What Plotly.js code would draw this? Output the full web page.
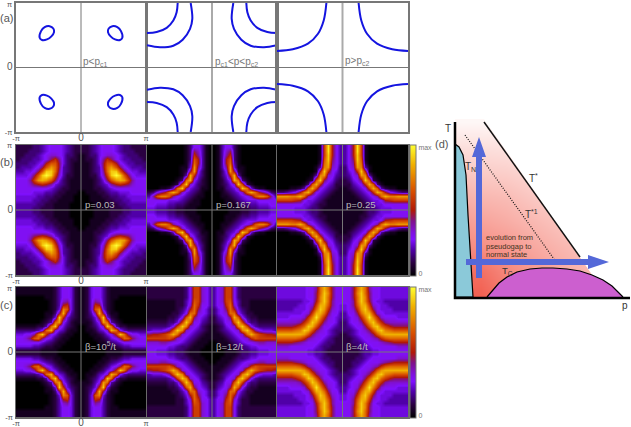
<!DOCTYPE html>
<html><head><meta charset="utf-8">
<script src="https://cdn.plot.ly/plotly-3.0.1.min.js"></script>
<style>html,body{margin:0;padding:0;background:#fff}#c{width:631px;height:427px}</style></head>
<body><div id="c"></div>
<script>
// (a) Fermi surface, upper-left quadrant, in units of pi
const a1Pocket = [[-.636,.462],[-.615,.564],[-.559,.626],[-.482,.641],[-.426,.605],[-.415,.549],[-.456,.482],[-.523,.436],[-.6,.426],[-.636,.462]];
const a2Inner = [[-1,.533],[-.851,.549],[-.697,.615],[-.595,.728],[-.544,.856],[-.528,1]];
const a2Outer = [[-1,.344],[-.8,.313],[-.595,.338],[-.451,.431],[-.338,.6],[-.303,.754],[-.328,1]];
const a3Curve = [[-1,.256],[-.759,.282],[-.528,.369],[-.374,.523],[-.287,.728],[-.246,1]];
// (b),(c) spectral weight, upper-left quadrant, 0 to 20 (20 = max)
const b1 = [
[2,2,2,2,3,3,4,5,6,6,6,5,4,3,2,2],[2,2,2,3,3,3,4,5,6,6,6,5,4,3,2,2],[2,2,3,3,3,4,5,6,7,7,6,5,3,3,2,1],[2,3,3,3,4,4,5,6,9,11,8,5,3,2,2,1],
[3,3,3,4,4,5,6,10,13,13,9,5,3,2,1,1],[3,4,4,4,5,6,9,13,16,14,9,4,3,2,1,1],[4,4,5,5,6,9,13,18,18,14,8,4,3,2,1,1],[5,5,5,6,9,13,18,20,18,12,7,4,2,2,1,1],
[6,6,6,8,12,16,17,16,13,9,5,3,2,1,1,1],[6,6,6,7,9,10,11,10,8,5,4,3,2,1,1,1],[6,6,6,6,6,6,6,6,5,4,3,2,2,1,1,1],[6,6,6,6,5,5,5,4,4,3,2,2,1,1,1,0],
[5,5,5,5,5,4,4,3,3,2,2,1,1,1,0,0],[5,5,5,5,4,4,3,3,2,2,1,1,1,1,0,0],[4,4,4,4,4,3,3,2,2,1,1,1,1,0,0,0],[4,4,4,4,3,3,2,2,2,1,1,1,1,0,0,0]];
const b2 = [
[0,0,0,0,0,0,0,0,0,1,3,6,6,4,1,0],[0,0,0,0,0,0,0,0,0,1,3,9,7,4,1,0],[0,0,0,0,0,0,0,0,0,1,3,11,8,4,1,0],[0,0,0,0,0,0,0,0,0,1,3,13,10,4,1,0],
[0,0,0,0,0,0,0,0,0,1,4,14,10,4,1,0],[0,0,0,0,0,0,0,0,1,1,5,16,8,4,1,0],[0,0,0,0,0,0,0,0,1,2,9,16,6,3,1,0],[0,0,0,0,0,0,0,0,1,4,17,11,5,3,1,0],
[0,0,0,0,0,0,0,1,3,14,17,6,4,2,1,0],[0,0,0,0,0,0,1,2,12,18,7,5,3,2,1,0],[0,0,0,1,1,2,5,14,18,8,5,4,3,1,1,0],[2,3,6,8,10,14,17,14,7,5,4,3,2,1,0,0],
[4,8,13,15,15,13,8,6,5,4,3,2,1,1,0,0],[6,6,6,6,6,5,5,5,4,3,2,1,1,0,0,0],[6,6,5,5,5,4,4,3,3,2,1,1,1,0,0,0],[5,5,4,4,4,3,3,2,2,1,1,1,0,0,0,0]];
const b3 = [
[0,0,0,0,0,0,0,0,0,0,1,12,19,10,6,4],[0,0,0,0,0,0,0,0,0,0,1,12,19,10,6,4],[0,0,0,0,0,0,0,0,0,0,1,12,18,10,6,4],[0,0,0,0,0,0,0,0,0,0,1,13,18,9,6,4],
[0,0,0,0,0,0,0,0,0,0,2,14,17,8,6,4],[0,0,0,0,0,0,0,0,0,1,4,15,16,7,6,3],[0,0,0,0,0,0,0,0,0,1,10,18,11,6,5,3],[0,0,0,0,0,0,0,0,1,4,15,16,7,6,4,3],
[0,0,0,0,0,0,0,1,2,13,18,9,6,5,3,2],[0,0,0,0,0,0,1,3,13,17,11,6,5,4,2,2],[0,0,0,1,1,2,4,13,17,12,6,5,4,3,2,1],[3,3,4,5,6,10,15,17,11,6,5,4,3,2,1,1],
[16,16,16,15,15,17,14,8,6,5,4,3,2,1,1,1],[12,12,12,12,11,10,6,5,5,4,3,2,1,1,1,1],[6,6,6,6,6,6,5,5,4,3,2,2,1,1,1,1],[6,6,6,6,5,5,5,4,3,3,2,1,1,1,1,1]];
const c1 = [
[1,1,1,1,1,1,1,1,1,2,4,6,6,5,2,1],[1,1,1,1,1,1,1,1,1,2,4,6,6,5,2,1],[0,0,0,0,0,0,0,1,1,2,4,6,6,5,2,1],[0,0,0,0,0,0,0,0,1,2,4,7,8,5,2,1],
[0,0,0,0,0,0,0,0,1,2,4,10,11,5,2,1],[0,0,0,0,0,0,0,0,1,2,5,15,13,5,2,1],[0,0,0,0,0,0,0,1,1,3,9,17,8,4,2,1],[0,0,0,0,0,0,0,1,2,5,18,11,5,3,2,1],
[0,0,0,0,0,0,1,2,4,14,16,6,4,2,1,1],[1,1,1,1,1,2,2,4,14,18,7,5,3,2,1,0],[3,3,3,3,3,4,6,14,17,7,5,4,2,1,1,0],[5,5,6,6,8,14,18,11,6,5,3,2,1,1,0,0],
[6,6,7,9,13,14,9,6,5,3,2,1,1,0,0,0],[6,6,6,6,6,6,5,4,3,2,1,1,0,0,0,0],[5,5,5,5,4,4,3,2,2,1,1,0,0,0,0,0],[2,2,2,2,2,2,1,1,1,1,0,0,0,0,0,0]];
const c2 = [
[2,2,2,2,2,2,2,2,2,3,6,12,12,7,6,4],[2,2,2,2,2,2,2,2,2,3,6,12,12,7,6,4],[2,2,2,2,2,2,2,2,2,3,6,12,12,7,6,4],[1,1,1,1,1,1,1,2,2,4,6,13,12,7,6,4],
[1,1,1,1,1,1,1,2,2,4,7,14,11,6,6,4],[1,1,1,1,1,1,1,2,3,5,10,14,9,6,5,3],[1,1,1,1,1,1,2,2,4,6,14,14,7,6,5,3],[1,1,1,1,1,2,2,3,6,13,17,9,6,5,4,2],
[2,2,2,2,2,3,3,5,12,18,13,6,6,4,3,2],[3,3,3,3,3,4,6,12,18,15,7,6,5,3,2,1],[4,5,5,5,6,8,13,18,15,7,6,5,4,3,2,1],[9,10,10,11,12,14,17,14,7,6,5,4,3,2,1,1],
[12,12,12,12,12,13,11,7,6,5,4,3,2,1,1,1],[7,7,7,8,8,7,6,6,5,4,3,2,1,1,1,0],[6,6,6,6,6,5,5,4,3,3,2,1,1,1,0,0],[6,6,5,5,5,4,4,3,3,2,1,1,1,0,0,0]];
const c3 = [
[5,5,5,5,5,5,5,6,6,8,14,17,14,9,6,6],[5,5,5,5,5,5,5,6,6,9,14,18,15,9,6,6],[5,5,5,5,5,5,5,6,6,9,15,18,14,9,6,6],[4,4,4,4,4,4,5,5,6,10,15,18,14,8,6,6],
[4,4,4,4,4,5,5,6,7,12,17,17,13,8,6,5],[4,4,4,4,5,5,5,6,9,14,18,16,11,7,6,5],[5,5,5,5,5,5,6,7,12,17,17,14,9,6,6,4],[5,5,5,6,6,6,7,11,15,19,15,11,7,6,5,4],
[7,7,7,7,7,8,11,14,18,16,12,8,6,6,5,3],[9,9,9,9,10,12,14,18,17,13,9,6,6,5,4,3],[13,13,13,13,14,15,18,17,13,9,7,6,5,4,3,3],[17,17,17,17,17,17,16,13,9,7,6,6,5,4,3,2],
[14,14,14,14,14,13,11,8,7,6,6,5,4,3,2,2],[10,10,10,10,9,8,7,6,6,6,5,4,3,3,2,2],[7,7,7,6,6,6,6,6,6,5,4,3,3,2,2,2],[6,6,6,6,6,6,6,5,5,4,4,3,2,2,2,2]];
// (d) phase diagram (p, T)
const gradP = [0,25,50,75,100,125,150,175];
const gradT = [0,25,50,75,100,125,150,175];
const gradZ = [
[1,1,.85,.7,.6,.5,.45,.4],[.9,.9,.75,.65,.55,.47,.4,.35],[.75,.7,.65,.55,.47,.4,.33,.2],[.62,.58,.52,.45,.38,.3,.2,.1],
[.5,.45,.42,.35,.28,.2,.1,.1],[.35,.32,.3,.25,.15,.1,.1,.1],[.2,.2,.18,.12,.05,.05,0,0],[.05,.05,.05,0,0,0,0,0]];
const tStar = [[29,175],[125,40]];
const tStar1 = [[10,162],[99,38]];
const maskRight = [[29,178],[125,40],[140,18],[168,0],[177,-1],[177,183],[29,183]];
const tN = [[0,153],[4,150],[8,142],[11,122],[13,82],[16,37],[18,0],[0,0]];
const tC = [[32,0],[37,6],[44,14],[52,20],[62,25],[75,28],[87,29],[98,29],[112,28],[125,26],[137,22],[148,17],[157,11],[163,5],[168,0]];
const arrowV = [[21,19],[27,19],[27,140],[31,140],[24,160],[17,140],[21,140]];
const arrowH = [[11,32],[133,32],[133,28],[154,35],[133,42],[133,38],[11,38]];

const hot = [[0,'#000000'],[.1,'#2a0040'],[.2,'#5000a8'],[.28,'#8010ff'],[.33,'#8010e0'],[.42,'#80108a'],[.5,'#b01808'],[.65,'#d85000'],[.85,'#f0b000'],[1,'#ffff30']];
const font = 'Liberation Sans, Arial, sans-serif';
const W=631,H=427;
const colsX=[[16,146],[147,277],[277,408]];
const rowsY=[[3,132],[145,275],[287,417]];
const N=16;
const centers=[];for(let i=0;i<2*N;i++)centers.push((-1+(i+.5)/N)*Math.PI);
const full=q=>{const r=q.map(o=>o.concat(o.slice().reverse()));return r.concat(r.slice().reverse());};
const data=[],shapes=[],ann=[];
const layout={width:W,height:H,margin:{l:0,r:0,t:0,b:0,pad:0},paper_bgcolor:'#fff',plot_bgcolor:'#fff',showlegend:false,font:{family:font,color:'#666'}};
let n=0;
function panel(col,row){
  n++;
  const suf=n===1?'':String(n);
  const [x0,x1]=colsX[col],[y0,y1]=rowsY[row];
  const first=col===0;
  const bc=row===0?'#777':'#6a6a6a';
  const common={range:[-Math.PI,Math.PI],showgrid:false,zeroline:false,showline:true,mirror:true,linecolor:bc,linewidth:row===0?2:1.5,ticks:'',showticklabels:first,tickfont:{size:7.5,color:'#555',family:font},layer:'above traces',automargin:false,tickmode:'array'};
  layout['xaxis'+suf]=Object.assign({},common,{domain:[x0/W,x1/W],anchor:'y'+suf,tickvals:first?[-Math.PI,0,Math.PI]:[],ticktext:first?['-π','<span style="font-size:10px">0</span>','π']:[],ticklabelstandoff:-2});
  layout['yaxis'+suf]=Object.assign({},common,{domain:[1-y1/H,1-y0/H],anchor:'x'+suf,tickvals:first?[-Math.PI,0]:[],ticktext:first?['-π','<span style="font-size:10px">0</span>']:[]});
  const vc=row===0&&col>0?'#aaa':'#777';
  const vw=row===0&&col>0?2:1;
  shapes.push({type:'line',xref:'x'+suf,yref:'y'+suf,x0:0,x1:0,y0:-Math.PI,y1:Math.PI,line:{color:vc,width:vw},layer:'above'});
  shapes.push({type:'line',xref:'x'+suf,yref:'y'+suf,x0:-Math.PI,x1:Math.PI,y0:0,y1:0,line:{color:'#777',width:1},layer:'above'});
  return {x:'x'+suf,y:'y'+suf};
}
function blue(ax,pts){
  const xs=[],ys=[];
  [[1,1],[-1,1],[1,-1],[-1,-1]].forEach(([sx,sy])=>{
    pts.forEach(p=>{xs.push(sx*p[0]*Math.PI);ys.push(sy*p[1]*Math.PI);});
    xs.push(null);ys.push(null);
  });
  data.push({type:'scatter',mode:'lines',x:xs,y:ys,xaxis:ax.x,yaxis:ax.y,connectgaps:false,line:{color:'#1414e0',width:2,shape:'spline',smoothing:1},hoverinfo:'skip'});
}
let ax=panel(0,0);blue(ax,a1Pocket);
ax=panel(1,0);blue(ax,a2Inner);blue(ax,a2Outer);
ax=panel(2,0);blue(ax,a3Curve);
[[b1,b2,b3],[c1,c2,c3]].forEach((grids,ri)=>{
  grids.forEach((q,ci)=>{
    const a=panel(ci,ri+1);
    const t={type:'heatmap',x:centers,y:centers,z:full(q),zmin:0,zmax:20,zsmooth:'best',colorscale:hot,xaxis:a.x,yaxis:a.y,showscale:false,hoverinfo:'skip'};
    if(ci===2){
      t.showscale=true;
      const r=rowsY[ri+1];
      t.colorbar={x:410/W,xanchor:'left',xpad:0,y:1-(r[0]+r[1])/2/H,yanchor:'middle',ypad:0,len:(r[1]-r[0]+1)/H,lenmode:'fraction',thickness:6,thicknessmode:'pixels',
        tickmode:'array',tickvals:[0.3,19.6],ticktext:['0','max'],ticks:'',tickfont:{size:7,color:'#777',family:font},outlinecolor:'#777',outlinewidth:1,borderwidth:0};
    }
    data.push(t);
  });
});
// (d)
layout.xaxis10={domain:[430/W,1],range:[-25,176],anchor:'y10',visible:false,showgrid:false,zeroline:false};
layout.yaxis10={domain:[1-315/H,1-115/H],range:[-18,182],anchor:'x10',visible:false,showgrid:false,zeroline:false};
const dAx={xaxis:'x10',yaxis:'y10',hoverinfo:'skip'};
const poly=(pts,fill,line)=>data.push(Object.assign({type:'scatter',mode:'lines',x:pts.map(p=>p[0]),y:pts.map(p=>p[1]),fill:'toself',fillcolor:fill,line:line||{width:0,color:fill}},dAx));
const path=(pts,line)=>data.push(Object.assign({type:'scatter',mode:'lines',x:pts.map(p=>p[0]),y:pts.map(p=>p[1]),line:line},dAx));
data.push(Object.assign({type:'heatmap',x:gradP,y:gradT,z:gradZ,zmin:0,zmax:1,zsmooth:'best',showscale:false,colorscale:[[0,'#ffffff'],[1,'#f25f50']]},dAx));
poly(maskRight,'#ffffff');
poly([[-25,-1],[177,-1],[177,-18],[-25,-18]],'#ffffff');
poly([[-25,-18],[0,-18],[0,183],[-25,183]],'#ffffff');
poly([[-1,178],[177,178],[177,183],[-1,183]],'#ffffff');
poly(tN,'#8bc9d9',{color:'#000',width:1.2});
poly(tC,'#cc5fcf',{color:'#000',width:1.2});
path(tStar,{color:'#111',width:1.5});
path(tStar1,{color:'#111',width:1.2,dash:'1px,1.5px'});
path([[0,175],[0,-1],[175,-1]],{color:'#000',width:2.5});
poly(arrowV,'#5468d8');
poly(arrowH,'#5468d8');

function txt(x,y,text,size,color,anchor){
  ann.push({xref:'paper',yref:'paper',x:x/W,y:1-y/H,text,showarrow:false,xanchor:anchor||'left',yanchor:'middle',align:'left',font:{size,color,family:font},borderpad:0,borderwidth:0});
}
txt(0,18,'(a)',11,'#555');txt(0,162,'(b)',11,'#555');txt(0,305,'(c)',11,'#555');txt(435,144,'(d)',11,'#555');
txt(7,4,'π',7.5,'#555');txt(7,146,'π',7.5,'#555');txt(7,288,'π',7.5,'#555');
txt(83,62,'p&lt;p<sub>c1</sub>',10,'#777');txt(215,62,'p<sub>c1</sub>&lt;p&lt;p<sub>c2</sub>',10,'#777');txt(345,61,'p&gt;p<sub>c2</sub>',10,'#777');
txt(85,204,'p=0.03',9.6,'#bbb');txt(216,204,'p=0.167',9.6,'#bbb');txt(346,204,'p=0.25',9.6,'#bbb');
txt(85,346,'β=10<sup>5</sup>/t',9.6,'#bbb');txt(216,346,'β=12/t',9.6,'#bbb');txt(346,346,'β=4/t',9.6,'#bbb');
txt(445,128,'T',10,'#333');txt(622,305,'p',10,'#333');
txt(465,167,'T<sub>N</sub>',10,'#333');txt(529,178,'T<sup>*</sup>',10,'#333');txt(525,214,'T<sup>*1</sup>',10,'#333');txt(502,271,'T<sub>C</sub>',9.5,'#333');
txt(486,238,'evolution from',7.5,'#432');txt(486,246,'pseudogap to',7.5,'#432');txt(486,254,'normal state',7.5,'#432');
layout.shapes=shapes;layout.annotations=ann;
Plotly.newPlot('c',data,layout,{displayModeBar:false,staticPlot:true});
</script></body></html>
